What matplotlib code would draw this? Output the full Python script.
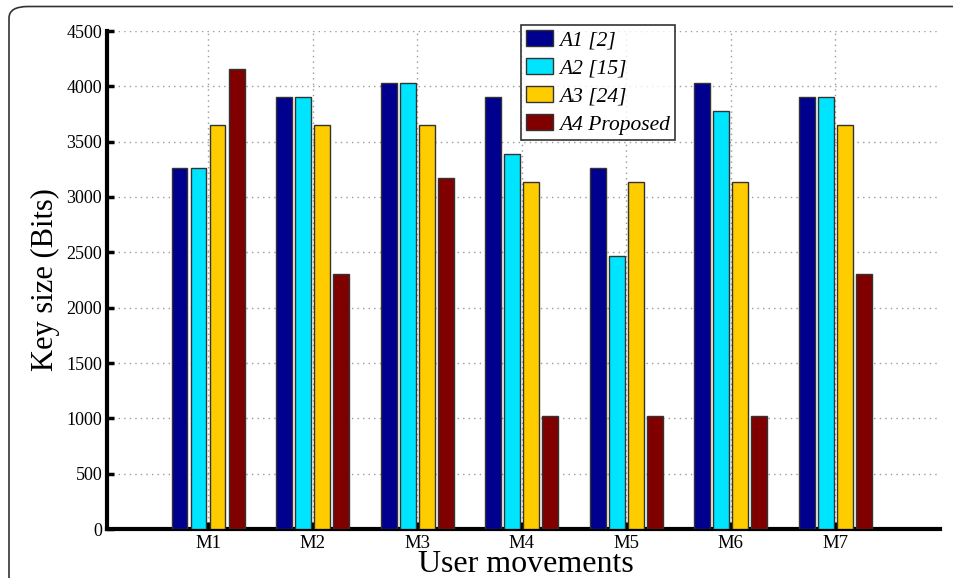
import matplotlib
matplotlib.use("Agg")
import matplotlib.pyplot as plt
import numpy as np
from matplotlib.patches import FancyBboxPatch

categories = ["M1", "M2", "M3", "M4", "M5", "M6", "M7"]
series_names = ["A1 [2]", "A2 [15]", "A3 [24]", "A4 Proposed"]
a1 = [3264, 3904, 4032, 3904, 3264, 4032, 3904]
a2 = [3264, 3904, 4032, 3392, 2464, 3776, 3904]
a3 = [3648, 3648, 3648, 3136, 3136, 3136, 3648]
a4 = [4160, 2304, 3168, 1024, 1024, 1024, 2304]
colors = ["#00008F", "#00E5FF", "#FFCC00", "#800000"]
yticks = [0, 500, 1000, 1500, 2000, 2500, 3000, 3500, 4000, 4500]

plt.rcParams['font.family'] = ['Liberation Serif', 'DejaVu Serif']

fig = plt.figure(figsize=(9.54, 5.78), dpi=100)
W, H = 954, 578
ax = fig.add_axes([107 / W, 1 - 529 / H, (940 - 107) / W, (529 - 31) / H])

# rounded figure border
border = FancyBboxPatch((9 / W, -0.1), 1.2, 1 - 6.5 / H + 0.1,
                        boxstyle="round,pad=0,rounding_size=0.02",
                        transform=fig.transFigure, fill=False,
                        edgecolor="#333333", linewidth=1.2, zorder=0)
fig.patches.append(border)

x = np.arange(1, len(categories) + 1)
pitch = 0.182
width = 0.152
for i, (vals, c, name) in enumerate(zip([a1, a2, a3, a4], colors, series_names)):
    ax.bar(x + (i - 1.5) * pitch, vals, width, color=c, edgecolor="#333333",
           linewidth=1.0, label=name, zorder=3)

ax.set_xlim(0.034, 8.0)
ax.set_ylim(0, 4500)
ax.set_xticks(x)
ax.set_xticklabels(categories)
ax.set_yticks(yticks)
ax.tick_params(axis='both', direction='in', length=5, width=2.5, labelsize=13)
ax.tick_params(axis='x', pad=4, labelsize=13.5)
ax.grid(True, linestyle=(0, (1, 3)), color="#999999", linewidth=1.0, zorder=0)
ax.set_axisbelow(True)
for s in ["top", "right"]:
    ax.spines[s].set_visible(False)
for s in ["left", "bottom"]:
    ax.spines[s].set_linewidth(3)

ax.set_ylabel("Key size (Bits)", fontsize=22)
ax.yaxis.label.set_ha('center')
ax.yaxis.label.set_va('center')
ax.yaxis.set_label_coords((45 - 107) / 833, 0.5)

ax.set_xlabel("User movements", fontsize=23)
ax.xaxis.label.set_va('baseline')
ax.xaxis.set_label_coords((526 - 107) / 833, (529 - 572) / 498)

leg = ax.legend(loc="upper left", bbox_to_anchor=((521 - 107) / (940 - 107), 1 + 6 / 498),
                prop={'style': 'italic', 'size': 15.5}, frameon=True, fancybox=False,
                handlelength=1.25, handleheight=0.75, handletextpad=0.25,
                borderpad=0.25, labelspacing=0.35, borderaxespad=0)
leg.get_frame().set_edgecolor("black")
leg.get_frame().set_linewidth(1.2)

fig.savefig("out.png", dpi=100)
